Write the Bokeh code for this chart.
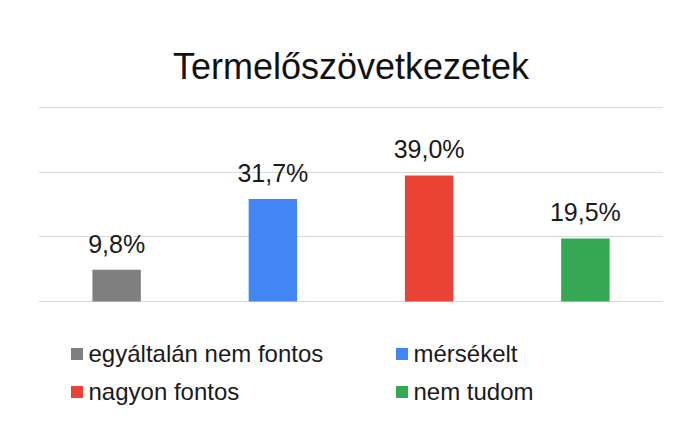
from bokeh.plotting import figure
from bokeh.models import (ColumnDataSource, LabelSet, Label, Legend, LegendItem,
                          FixedTicker, Range1d, FactorRange)
from bokeh.core.properties import value
from bokeh.embed import file_html
from bokeh.resources import INLINE

# ---- data ----
chart_title = "Termelőszövetkezetek"
categories = ["egyáltalán nem fontos", "mérsékelt", "nagyon fontos", "nem tudom"]
values = [9.8, 31.7, 39.0, 19.5]
colors = ["#7f7f7f", "#4285f4", "#ea4335", "#34a853"]
y_ticks = [0, 20, 40, 60]
value_labels = [f"{v:.1f}".replace(".", ",") + "%" for v in values]

# ---- layout (pixels) ----
FONT = "Liberation Sans"
W, H = 684, 424
FL, FR = 38, 663          # plot area left / right
TOP_Y, BASE_Y = 107, 301  # pixel rows of the top gridline and of 0
px_per_unit = (BASE_Y - TOP_Y) / (y_ticks[-1] - y_ticks[0])
y_start = y_ticks[0] - (H - BASE_Y) / px_per_unit
y_end = y_ticks[-1] + TOP_Y / px_per_unit

src = ColumnDataSource(dict(cat=categories, val=values, color=colors, lab=value_labels))

p = figure(width=W, height=H, x_range=FactorRange(*categories),
           y_range=Range1d(y_start, y_end),
           x_axis_location=None, y_axis_location=None,
           output_backend="svg", toolbar_location=None,
           min_border_left=FL, min_border_right=W - FR,
           min_border_top=0, min_border_bottom=0)
p.outline_line_color = None
p.background_fill_color = "white"
p.border_fill_color = "white"
p.xgrid.visible = False
p.ygrid.ticker = FixedTicker(ticks=y_ticks)
p.ygrid.grid_line_color = "#d9d9d9"
p.ygrid.grid_line_width = 1.2

bars = p.vbar(x="cat", top="val", width=0.31, bottom=0, color="color",
              line_color=None, source=src)

p.add_layout(LabelSet(x="cat", y="val", text="lab", source=src, y_offset=17,
                      text_align="center", text_baseline="alphabetic",
                      text_font=value(FONT), text_font_size=value("25px"),
                      text_color="#1a1a1a"))

p.add_layout(Label(x=(FR - FL) / 2, y=H - 66, x_units="screen", y_units="screen",
                   text=chart_title, text_align="center", text_baseline="alphabetic",
                   text_font=FONT, text_font_size="36px", text_color="#111111"))

legend = Legend(items=[LegendItem(label=categories[i], renderers=[bars], index=i)
                       for i in range(len(categories))],
                orientation="horizontal", ncols=2,
                location=(30.5, 13.5),
                glyph_width=15, glyph_height=15, label_standoff=5,
                label_width=305, label_height=38, spacing=0, padding=0, margin=0,
                border_line_color=None, background_fill_alpha=0,
                label_text_font=FONT, label_text_font_size="24px",
                label_text_color="#1a1a1a")
p.add_layout(legend, "center")

open("out.html", "w").write(file_html(p, INLINE))
